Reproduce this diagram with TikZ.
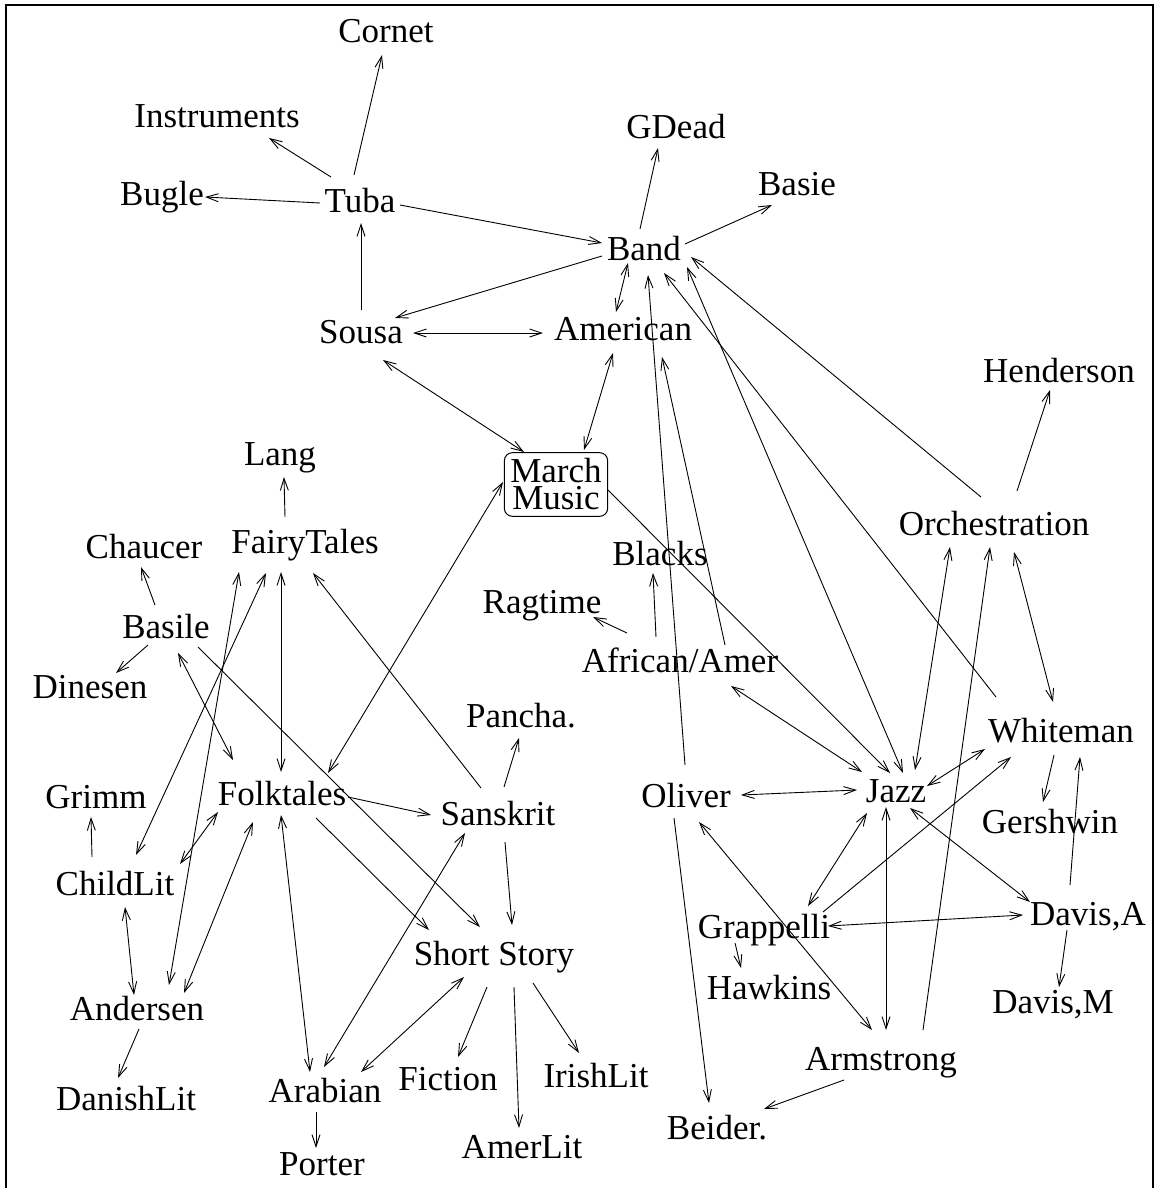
\documentclass[tikz,border=0pt]{standalone}
\usepackage{fontspec}
\setmainfont{Liberation Serif}
\usetikzlibrary{arrows.meta,calc}
% connector between two node anchors, each moved by an offset (x right, y down)
\newcommand\cnx[5]{\draw[link,#1] ($(#2)+(#3)$) -- ($(#4)+(#5)$);}
\begin{document}
\begin{tikzpicture}[x=1pt,y=-1pt,
  lbl/.style={anchor=base, inner xsep=7pt, inner ysep=8pt, text height=24pt, text depth=0pt,
    font=\fontsize{35}{42}\selectfont},
  boxed/.style={draw, line width=1pt, rounded corners=8pt, align=center, inner xsep=6pt,
    inner ysep=6pt, font=\fontsize{35}{27}\selectfont},
  link/.style={line width=0.9pt},
  >={Straight Barb[length=12pt,width=8pt]}]

\useasboundingbox (0,0) rectangle (1159,1188);
% open frame: left, top and right sides
\draw[line width=2.5pt] (6,1192) -- (6,5) -- (1153,5) -- (1153,1192);

% nodes (x = centre, y = baseline)
\node[lbl] (Cornet)        at (386,43)   {Cornet};
\node[lbl] (Instruments)   at (217,128)  {Instruments};
\node[lbl] (Bugle)         at (162,205)  {Bugle};
\node[lbl] (Tuba)          at (360,212)  {Tuba};
\node[lbl] (GDead)         at (676,139)  {GDead};
\node[lbl] (Basie)         at (797,195)  {Basie};
\node[lbl] (Band)          at (644,260)  {Band};
\node[lbl] (Sousa)         at (361,343)  {Sousa};
\node[lbl] (American)      at (623,340)  {American};
\node[lbl] (Henderson)     at (1059,382) {Henderson};
\node[boxed] (March)       at (556,484.5) {March\\Music};
\node[lbl] (Lang)          at (280,465)  {Lang};
\node[lbl] (FairyTales)    at (305,553)  {FairyTales};
\node[lbl] (Chaucer)       at (144,558)  {Chaucer};
\node[lbl] (Orchestration) at (994,535)  {Orchestration};
\node[lbl] (Blacks)        at (660,565)  {Blacks};
\node[lbl] (Ragtime)       at (542,613)  {Ragtime};
\node[lbl] (Basile)        at (166,638)  {Basile};
\node[lbl] (AfrAmer)       at (680,672)  {African/Amer};
\node[lbl] (Dinesen)       at (90,698)   {Dinesen};
\node[lbl] (Pancha)        at (521,727)  {Pancha.};
\node[lbl] (Whiteman)      at (1061,742) {Whiteman};
\node[lbl] (Grimm)         at (96,808)   {Grimm};
\node[lbl] (Folktales)     at (282,805)  {Folktales};
\node[lbl] (Sanskrit)      at (498,825)  {Sanskrit};
\node[lbl] (Oliver)        at (686,807)  {Oliver};
\node[lbl] (Jazz)          at (896,802)  {Jazz};
\node[lbl] (Gershwin)      at (1050,833) {Gershwin};
\node[lbl] (ChildLit)      at (115,895)  {ChildLit};
\node[lbl] (Grappelli)     at (764,938)  {Grappelli};
\node[lbl] (DavisA)        at (1088,925) {Davis,A};
\node[lbl] (ShortStory)    at (494,965)  {Short Story};
\node[lbl] (Hawkins)       at (769,999)  {Hawkins};
\node[lbl] (DavisM)        at (1053,1013) {Davis,M};
\node[lbl] (Andersen)      at (137,1020) {Andersen};
\node[lbl] (Armstrong)     at (881,1070) {Armstrong};
\node[lbl] (Arabian)       at (325,1102) {Arabian};
\node[lbl] (Fiction)       at (448,1090) {Fiction};
\node[lbl] (IrishLit)      at (596,1087) {IrishLit};
\node[lbl] (DanishLit)     at (126,1110) {DanishLit};
\node[lbl] (Beider)        at (717,1139) {Beider.};
\node[lbl] (AmerLit)       at (522,1158) {AmerLit};
\node[lbl] (Porter)        at (322,1175) {Porter};

% connectors: music side
\cnx{->}{Tuba.base}{-6,-37}{Cornet.base}{-4,12}
\cnx{->}{Tuba.base}{-29,-35}{Instruments.base}{52,10}
\cnx{->}{Tuba.base}{-40,-9}{Bugle.base}{43,-8}
\cnx{->}{Tuba.base}{40,-7}{Band.base}{-42,-17}
\cnx{->}{Sousa.base}{0,-33}{Tuba.base}{1,11}
\cnx{->}{Band.base}{-42,-4}{Sousa.base}{34,-25}
\cnx{<->}{Sousa.base}{52,-10}{American.base}{-80,-7}
\cnx{<->}{Sousa.base}{22,17}{March.center}{-32,-32.5}
\cnx{->}{Band.base}{-4,-31}{GDead.base}{-18,9}
\cnx{->}{Band.base}{41,-16}{Basie.base}{-25,10}
\cnx{<->}{Band.base}{-16,3}{American.base}{-7,-28}
\cnx{<->}{American.base}{-10,13}{March.center}{28,-34.5}
\cnx{->}{Oliver.base}{-1,-42}{Band.base}{4,15}
\cnx{->}{Whiteman.base}{-65,-45}{Band.base}{20,13}
\cnx{<->}{Band.base}{43,7}{Jazz.base}{7,-29}
\cnx{->}{Orchestration.base}{-13,-38}{Band.base}{47,-3}
\cnx{->}{AfrAmer.base}{45,-27}{American.base}{39,17}
\cnx{->}{Orchestration.base}{23,-44}{Henderson.base}{-9,8}
\cnx{->}{March.center}{52,5.5}{Jazz.base}{-6,-29}
\cnx{->}{AfrAmer.base}{-24,-35}{Blacks.base}{-7,8}
\cnx{->}{AfrAmer.base}{-53,-39}{Ragtime.base}{51,4}
\cnx{<->}{AfrAmer.base}{51,14}{Jazz.base}{-34,-30}
\cnx{<->}{Orchestration.base}{-44,12}{Jazz.base}{19,-32}
\cnx{->}{Armstrong.base}{42,-40}{Orchestration.base}{-4,12}
\cnx{<->}{Orchestration.base}{20,17}{Whiteman.base}{-8,-40}
\cnx{<->}{Oliver.base}{55,-12}{Jazz.base}{-39,-12}
\cnx{<->}{Jazz.base}{31,-16}{Whiteman.base}{-76,7}
\cnx{->}{Grappelli.base}{59,-26}{Whiteman.base}{-50,15}
\cnx{->}{Whiteman.base}{-7,13}{Gershwin.base}{-7,-31}
\cnx{->}{DavisA.base}{-18,-40}{Whiteman.base}{19,15}
\cnx{->}{Oliver.base}{-12,11}{Beider.base}{-8,-36}
\cnx{<->}{Oliver.base}{13,15}{Armstrong.base}{-9,-40}
\cnx{<->}{Jazz.base}{-29,11}{Grappelli.base}{44,-32}
\cnx{<->}{Jazz.base}{-10,5}{Armstrong.base}{5,-40}
\cnx{<->}{Jazz.base}{14,6}{DavisA.base}{-58,-23}
\cnx{<->}{Grappelli.base}{64,-12}{DavisA.base}{-65,-10}
\cnx{->}{Grappelli.base}{-29,5}{Hawkins.base}{-28,-31}
\cnx{->}{DavisA.base}{-21,5}{DavisM.base}{6,-26}
\cnx{->}{Armstrong.base}{-37,10}{Beider.base}{47,-30}

% connectors: literature side
\cnx{<->}{Folktales.base}{46,-32}{March.center}{-53,-2.5}
\cnx{->}{FairyTales.base}{-20,-36}{Lang.base}{4,12}
\cnx{->}{Basile.base}{-11,-33}{Chaucer.base}{-3,9}
\cnx{->}{Basile.base}{-18,7}{Dinesen.base}{26,-25}
\cnx{<->}{Basile.base}{12,15}{Folktales.base}{-49,-45}
\cnx{->}{Basile.base}{32,9}{ShortStory.base}{-14,-38}
\cnx{<->}{FairyTales.base}{-66,19}{Andersen.base}{32,-35}
\cnx{<->}{FairyTales.base}{-39,20}{ChildLit.base}{21,-40}
\cnx{<->}{FairyTales.base}{-24,19}{Folktales.base}{-1,-33}
\cnx{->}{Sanskrit.base}{-17,-37}{FairyTales.base}{8,20}
\cnx{->}{Sanskrit.base}{6,-38}{Pancha.base}{-2,11}
\cnx{->}{Folktales.base}{66,-8}{Sanskrit.base}{-67,-10}
\cnx{->}{ChildLit.base}{-23,-38}{Grimm.base}{-5,9}
\cnx{<->}{Folktales.base}{-64,7}{ChildLit.base}{65,-31}
\cnx{<->}{Folktales.base}{-29,17}{Andersen.base}{47,-27}
\cnx{<->}{ChildLit.base}{10,12}{Andersen.base}{-3,-25}
\cnx{->}{Andersen.base}{2,9}{DanishLit.base}{-8,-32}
\cnx{<->}{Folktales.base}{-1,10}{Arabian.base}{-15,-30}
\cnx{->}{Folktales.base}{34,13}{ShortStory.base}{-65,-35}
\cnx{->}{Sanskrit.base}{7,17}{ShortStory.base}{18,-40}
\cnx{<->}{Arabian.base}{-1,-35}{Sanskrit.base}{-33,8}
\cnx{<->}{Arabian.base}{36,-30}{ShortStory.base}{-30,12}
\cnx{->}{ShortStory.base}{-7,22}{Fiction.base}{10,-33}
\cnx{->}{ShortStory.base}{20,22}{AmerLit.base}{-3,-30}
\cnx{->}{ShortStory.base}{39,18}{IrishLit.base}{-17,-34}
\cnx{->}{Arabian.base}{-9,10}{Porter.base}{-6,-27}
\end{tikzpicture}
\end{document}
